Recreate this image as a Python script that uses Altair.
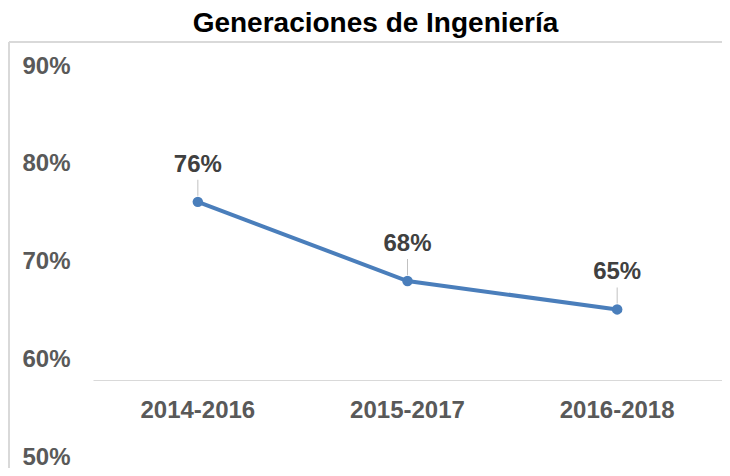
import altair as alt
import pandas as pd

categories = ["2014-2016", "2015-2017", "2016-2018"]
values = [0.761, 0.680, 0.651]
labels = ["76%", "68%", "65%"]
y_ticks = [0.5, 0.6, 0.7, 0.8, 0.9]

df = pd.DataFrame({"cat": categories, "val": values, "lab": labels})

FONT = "Liberation Sans"
W, H = 629, 391

x_enc = alt.X(
    "cat:N",
    sort=categories,
    scale=alt.Scale(paddingInner=0, paddingOuter=0),
    axis=alt.Axis(
        title=None, orient="bottom", offset=-77, domainColor="#D9D9D9",
        domainWidth=1, ticks=False, labelAngle=0, labelFont=FONT,
        labelFontSize=24, labelFontWeight="bold", labelColor="#595959",
        labelPadding=18, grid=False,
    ),
)
y_enc = alt.Y(
    "val:Q",
    scale=alt.Scale(domain=[0.5, 0.9], nice=False, zero=False),
    axis=alt.Axis(
        title=None, values=y_ticks, format=".0%", domain=False, ticks=False,
        grid=False, labelFont=FONT, labelFontSize=24, labelFontWeight="bold",
        labelColor="#595959", labelPadding=23, labelAlign="right",
    ),
)

base = alt.Chart(df)

frame_top = base.mark_rule(color="#D9D9D9", strokeWidth=2).encode(
    x=alt.value(-84), x2=alt.value(640), y=alt.value(-24)
)
frame_left = base.mark_rule(color="#D9D9D9", strokeWidth=2).encode(
    x=alt.value(-84), y=alt.value(-24), y2=alt.value(460)
)

line = base.mark_line(color="#4A7EBB", strokeWidth=4).encode(x=x_enc, y=y_enc)
pts = base.mark_circle(color="#4A7EBB", size=110, opacity=1).encode(x=x_enc, y=y_enc)
leader = base.mark_tick(orient="vertical", color="#A6A6A6", thickness=1, size=16, yOffset=-14).encode(
    x=x_enc, y=y_enc
)
text = base.mark_text(
    font=FONT, fontSize=24, fontWeight="bold", color="#404040", dy=-37, baseline="middle"
).encode(x=x_enc, y=y_enc, text="lab:N")

chart = alt.layer(frame_top, frame_left, line, leader, pts, text).properties(
    width=W,
    height=H,
    title=alt.TitleParams(
        "Generaciones de Ingeniería", font=FONT, fontSize=28, fontWeight="bold",
        color="#000000", anchor="middle", frame="group", dx=-32, dy=1,
    ),
    autosize=alt.AutoSizeParams(type="none"),
    padding={"left": 85, "top": 58, "right": 0, "bottom": 11},
).configure_view(stroke=None)

chart.save("out.html", embed_options={"renderer": "svg", "actions": False})
